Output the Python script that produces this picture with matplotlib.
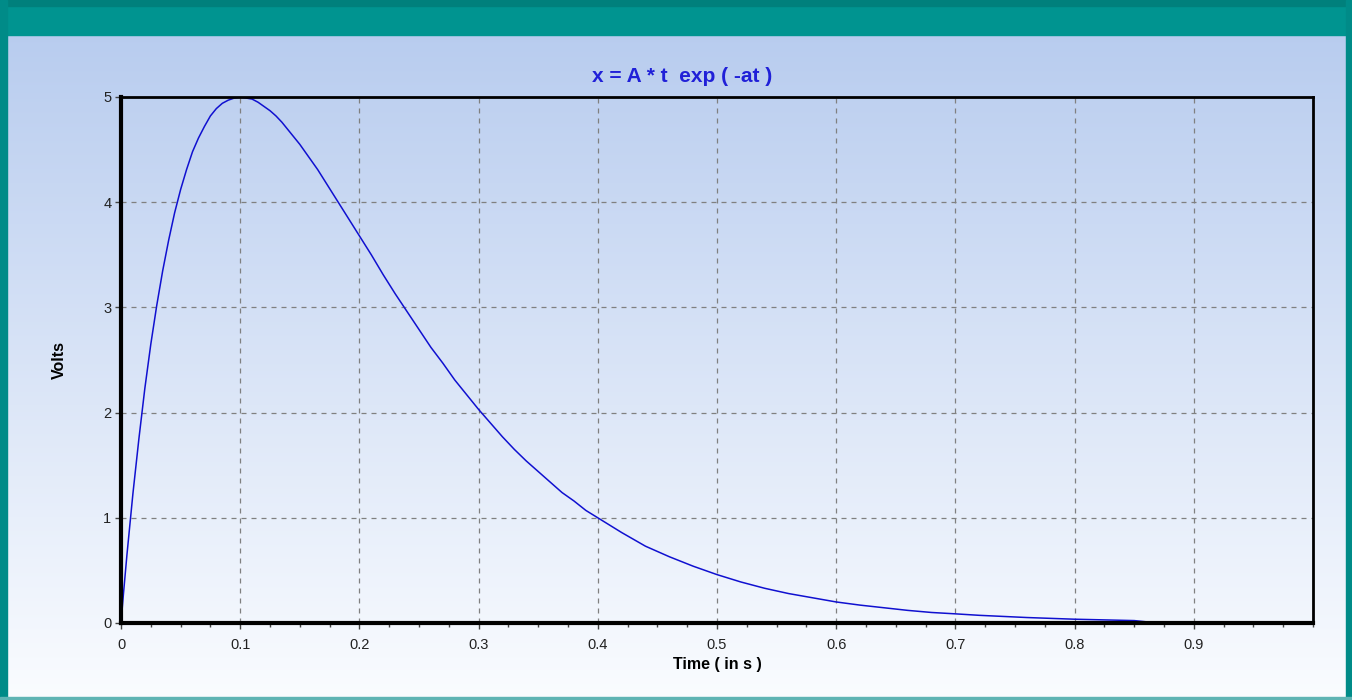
import numpy as np
import matplotlib
matplotlib.use("Agg")
import matplotlib.pyplot as plt
from matplotlib.patches import Rectangle
from matplotlib.ticker import MultipleLocator

plt.rcParams['font.family'] = ['Liberation Sans', 'DejaVu Sans']

# Data
time_s = [0.0, 0.002, 0.005, 0.01, 0.015, 0.02, 0.025, 0.03, 0.035, 0.04, 0.045,
          0.05, 0.055, 0.06, 0.065, 0.07, 0.075, 0.08, 0.085, 0.09, 0.095,
          0.10, 0.105, 0.11, 0.115, 0.12, 0.125, 0.13, 0.135, 0.14, 0.145,
          0.15, 0.155, 0.16, 0.165, 0.17, 0.175, 0.18, 0.185, 0.19, 0.195,
          0.20, 0.21, 0.22, 0.23, 0.24, 0.25, 0.26, 0.27, 0.28, 0.29, 0.30,
          0.31, 0.32, 0.33, 0.34, 0.35, 0.36, 0.37, 0.38, 0.39, 0.40,
          0.42, 0.44, 0.46, 0.48, 0.50, 0.52, 0.54, 0.56, 0.58, 0.60,
          0.62, 0.66, 0.68, 0.70, 0.72, 0.76, 0.78, 0.80, 0.85, 0.87]
volts = [0.0, 0.27, 0.65, 1.23, 1.75, 2.23, 2.65, 3.02, 3.35, 3.64, 3.90,
         4.12, 4.31, 4.48, 4.61, 4.72, 4.82, 4.89, 4.94, 4.97, 4.99,
         5.00, 4.99, 4.98, 4.95, 4.91, 4.87, 4.82, 4.76, 4.69, 4.62,
         4.55, 4.47, 4.39, 4.31, 4.22, 4.13, 4.04, 3.95, 3.86, 3.77,
         3.68, 3.50, 3.31, 3.13, 2.96, 2.79, 2.62, 2.47, 2.31, 2.17, 2.03,
         1.90, 1.77, 1.65, 1.54, 1.44, 1.34, 1.24, 1.16, 1.07, 1.00,
         0.86, 0.73, 0.63, 0.54, 0.46, 0.39, 0.33, 0.28, 0.24, 0.20,
         0.17, 0.12, 0.10, 0.087, 0.073, 0.052, 0.044, 0.036, 0.023, 0.0]

x_ticks = [0, 0.1, 0.2, 0.3, 0.4, 0.5, 0.6, 0.7, 0.8, 0.9]
x_tick_labels = ['0', '0.1', '0.2', '0.3', '0.4', '0.5', '0.6', '0.7', '0.8', '0.9']
y_ticks = [0, 1, 2, 3, 4, 5]

W, H = 1352, 700
fig = plt.figure(figsize=(W / 100, H / 100), dpi=100)

# background gradient over entire figure
bg = fig.add_axes([0, 0, 1, 1], zorder=-10)
grad = np.linspace(0, 1, 256)[:, None]
top = np.array([181, 202, 238]) / 255.0
bot = np.array([250, 252, 255]) / 255.0
img = top[None, None, :] * (1 - grad[:, :, None]) + bot[None, None, :] * grad[:, :, None]
img = np.repeat(img, 2, axis=1)
bg.imshow(img, aspect='auto', extent=[0, 1, 0, 1], origin='upper')
bg.set_xlim(0, 1)
bg.set_ylim(0, 1)
bg.axis('off')

# teal frame
teal = '#008b88'
fig.patches.append(Rectangle((0, 1 - 35 / H), 1, 35 / H, transform=fig.transFigure,
                             color='#009490', zorder=-5))
fig.patches.append(Rectangle((0, 1 - 6 / H), 1, 6 / H, transform=fig.transFigure,
                             color='#00807c', zorder=-5))
fig.patches.append(Rectangle((0, 0), 7 / W, 1, transform=fig.transFigure,
                             color=teal, zorder=-5))
fig.patches.append(Rectangle((1 - 6 / W, 0), 6 / W, 1, transform=fig.transFigure,
                             color=teal, zorder=-5))
fig.patches.append(Rectangle((0, 0), 1, 3 / H, transform=fig.transFigure,
                             color='#5fb4b4', zorder=-5))

left, right, topp, bottom = 121, 1313, 97, 623
ax = fig.add_axes([left / W, 1 - bottom / H, (right - left) / W, (bottom - topp) / H])
ax.patch.set_alpha(0)
ax.plot(time_s, volts, color='#1010d0', lw=1.1, zorder=3)
ax.set_xlim(0, 1)
ax.set_ylim(0, 5)
ax.set_xticks(x_ticks)
ax.set_xticklabels(x_tick_labels)
ax.set_yticks(y_ticks)
ax.xaxis.set_minor_locator(MultipleLocator(0.025))
ax.tick_params(axis='both', which='major', length=4, width=1, color='#444444',
               labelsize=10.5, labelcolor='#222222')
ax.tick_params(axis='x', which='major', pad=7)
ax.tick_params(axis='y', which='major', pad=3)
ax.tick_params(axis='x', which='minor', length=3, width=1, color='#444444')
ax.grid(True, which='major', linestyle=(0, (4, 4)), color='#808080', lw=0.9)
for s in ['left', 'bottom']:
    ax.spines[s].set_linewidth(3)
for s in ['top', 'right']:
    ax.spines[s].set_linewidth(2)
for s in ax.spines.values():
    s.set_color('black')
    s.set_zorder(4)

fig.text(717 / W, 1 - 664 / H, 'Time ( in s )', fontsize=11.5, fontweight='bold',
         ha='center', va='center')
fig.text(59 / W, 1 - 360 / H, 'Volts', rotation=90, fontsize=11.5, fontweight='bold',
         ha='center', va='center')
fig.text(682 / W, 1 - 77 / H, 'x = A * t  exp ( -at )', fontsize=15, fontweight='bold',
         color='#2020d8', ha='center', va='center')

fig.savefig('out.png', dpi=100)
